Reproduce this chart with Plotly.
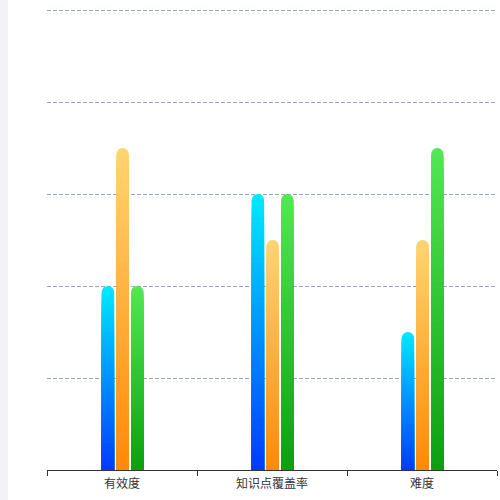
import plotly.graph_objects as go

categories = ["有效度", "知识点覆盖率", "难度"]
series_blue = [2, 3, 1.5]
series_orange = [3.5, 2.5, 2.5]
series_green = [2, 3, 3.5]

# gradient (top color, bottom color) per series
grad_blue = ((0, 232, 255), (0, 60, 255))
grad_orange = ((255, 212, 112), (255, 138, 8))
grad_green = ((82, 232, 82), (12, 160, 16))

offsets = [-0.094, 0.004, 0.102]
bar_w = 0.082
N = 48


def mix(c1, c2, t):
    return "rgb(%d,%d,%d)" % tuple(round(a + (b - a) * t) for a, b in zip(c1, c2))


fig = go.Figure()
xs = []
vals = []
grads = []
for s_vals, g, off in ((series_blue, grad_blue, offsets[0]),
                       (series_orange, grad_orange, offsets[1]),
                       (series_green, grad_green, offsets[2])):
    for i, v in enumerate(s_vals):
        xs.append(i + off)
        vals.append(v)
        grads.append(g)

for k in range(N):
    t = k / (N - 1)
    frac = (N - k) / N
    fig.add_trace(go.Bar(
        x=xs,
        y=[v * frac for v in vals],
        width=bar_w,
        marker=dict(color=[mix(g[0], g[1], t) for g in grads],
                    line=dict(width=0), cornerradius=6),
        hoverinfo="skip",
        showlegend=False,
    ))

fig.update_layout(
    width=500, height=500,
    margin=dict(l=47, r=3, t=8, b=30),
    barmode="overlay",
    plot_bgcolor="white",
    paper_bgcolor="white",
    font=dict(family="Noto Sans CJK SC, Noto Sans, sans-serif", size=12, color="#333"),
    xaxis=dict(
        range=[-0.5, 2.5],
        tickvals=[0, 1, 2],
        ticktext=categories,
        ticks="",
        ticklabelstandoff=3,
        showgrid=False,
        zeroline=False,
        showline=True, linecolor="#333", linewidth=1,
        tickfont=dict(size=12, color="#333"),
        minor=dict(tickvals=[-0.5, 0.5, 1.5, 2.5], ticks="outside",
                   ticklen=5, tickcolor="#333", tickwidth=1, showgrid=False),
    ),
    yaxis=dict(
        range=[0, 5 + 2 / 92],
        tickvals=[1, 2, 3, 4, 5],
        showticklabels=False,
        showgrid=True, gridcolor="#8fa8c4", griddash="4px,2px", gridwidth=1,
        zeroline=False,
        showline=False,
    ),
    shapes=[dict(type="rect", xref="paper", yref="paper",
                 x0=-47 / 450, x1=(8 - 47) / 450, y0=-0.1, y1=1.1,
                 fillcolor="#f2f2f7", line=dict(width=0), layer="below")],
)

fig.write_html("out.html", config={"displayModeBar": False},
               post_script="document.body.style.margin='0';")
